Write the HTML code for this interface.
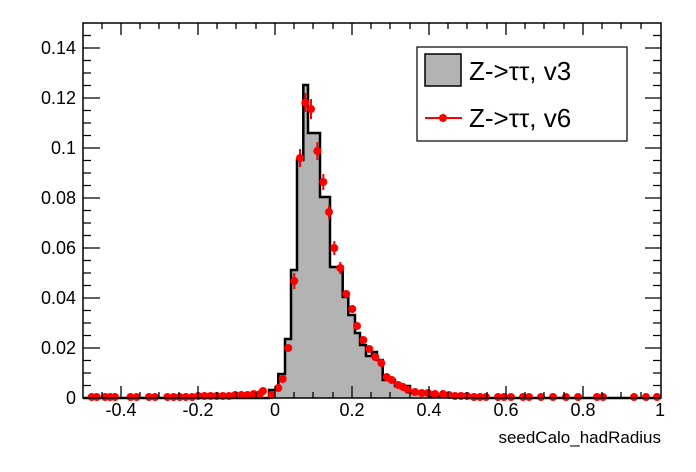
<!DOCTYPE html>
<html><head><meta charset="utf-8"><style>
html,body{margin:0;padding:0;background:#fff;}
svg{display:block;font-family:"Liberation Sans",sans-serif;}
</style></head><body>
<svg width="696" height="472" viewBox="0 0 696 472" xmlns="http://www.w3.org/2000/svg">
<rect width="696" height="472" fill="#fff"/>
<!-- histogram -->
<path d="M83,398 H269 V390 H278.3 V374 H285 V339 H291 V270 H297 V160 H303.3 V85 H308 V133 H320 V197 H330 V267 H342.7 V297 H348.3 V315 H355 V333 H360 V345 H366 V356 H372 V352 H377 V360 H382.7 V380 H395 V386 H410 V393 H430 V396 H470 V398 H661 V398 H83 Z" fill="#b3b3b3" stroke="none"/>
<path d="M83,398 H269 V390 H278.3 V374 H285 V339 H291 V270 H297 V160 H303.3 V85 H308 V133 H320 V197 H330 V267 H342.7 V297 H348.3 V315 H355 V333 H360 V345 H366 V356 H372 V352 H377 V360 H382.7 V380 H395 V386 H410 V393 H430 V396 H470 V398 H661" fill="none" stroke="#000" stroke-width="2.5"/>
<!-- error bars -->
<g stroke="#f00" stroke-width="2">
<line x1="294.3" y1="273" x2="294.3" y2="289"/>
<line x1="300" y1="149" x2="300" y2="167"/>
<line x1="305.3" y1="93" x2="305.3" y2="112"/>
<line x1="311" y1="99" x2="311" y2="119"/>
<line x1="317.3" y1="142" x2="317.3" y2="160"/>
<line x1="323.3" y1="174" x2="323.3" y2="190"/>
<line x1="329" y1="205" x2="329" y2="219"/>
<line x1="334.3" y1="241" x2="334.3" y2="255"/>
<line x1="340.3" y1="262" x2="340.3" y2="274"/>
</g>
<g fill="#f00">
<circle cx="278.3" cy="388" r="4"/><circle cx="282.7" cy="379" r="4"/><circle cx="288.3" cy="348" r="4"/><circle cx="294.3" cy="281" r="4"/><circle cx="300" cy="158" r="4"/><circle cx="305.3" cy="102.7" r="4"/><circle cx="311" cy="109" r="4"/><circle cx="317.3" cy="151" r="4"/><circle cx="323.3" cy="182" r="4"/><circle cx="329" cy="212" r="4"/><circle cx="334.3" cy="248" r="4"/><circle cx="340.3" cy="268" r="4"/><circle cx="346.3" cy="294" r="4"/><circle cx="352.3" cy="309" r="4"/><circle cx="357" cy="326" r="4"/><circle cx="363.3" cy="340" r="4"/><circle cx="369.3" cy="349" r="4"/><circle cx="375.3" cy="357" r="4"/><circle cx="381.3" cy="363" r="4"/><circle cx="386.7" cy="377" r="4"/><circle cx="391.7" cy="380" r="4"/><circle cx="398.3" cy="385" r="4"/><circle cx="403" cy="387" r="4"/><circle cx="408" cy="390" r="4"/><circle cx="415" cy="392" r="4"/><circle cx="421.7" cy="393" r="4"/><circle cx="428" cy="393" r="4"/><circle cx="435" cy="394" r="4"/><circle cx="443" cy="394" r="4"/>
<circle cx="449" cy="395" r="4"/><circle cx="455" cy="396" r="4"/><circle cx="461" cy="396" r="4"/><circle cx="467" cy="396" r="4"/><circle cx="474" cy="397" r="4"/><circle cx="480" cy="397" r="4"/><circle cx="486" cy="397" r="4"/><circle cx="498" cy="397" r="4"/><circle cx="504" cy="397" r="4"/><circle cx="511" cy="397" r="4"/><circle cx="523" cy="397" r="4"/><circle cx="529" cy="397" r="4"/><circle cx="541" cy="397" r="4"/><circle cx="553" cy="397" r="4"/><circle cx="566" cy="397" r="4"/><circle cx="578" cy="397" r="4"/><circle cx="597" cy="397" r="4"/><circle cx="603" cy="397" r="4"/><circle cx="634" cy="397" r="4"/><circle cx="646" cy="397" r="4"/><circle cx="657" cy="397" r="4"/>
<circle cx="263" cy="391" r="4"/><circle cx="271.7" cy="395" r="4"/><circle cx="259.9" cy="394" r="4"/><circle cx="253.7" cy="394" r="4"/><circle cx="247.5" cy="395" r="4"/><circle cx="241.4" cy="395" r="4"/><circle cx="235.2" cy="395" r="4"/><circle cx="229.1" cy="396" r="4"/><circle cx="222.9" cy="396" r="4"/><circle cx="216.7" cy="396" r="4"/><circle cx="210.6" cy="396" r="4"/><circle cx="204.4" cy="396" r="4"/><circle cx="198.2" cy="396" r="4"/><circle cx="192.1" cy="397" r="4"/><circle cx="185.9" cy="397" r="4"/><circle cx="179.8" cy="397" r="4"/><circle cx="173.6" cy="397" r="4"/><circle cx="167.4" cy="397" r="4"/><circle cx="155.1" cy="397" r="4"/><circle cx="149" cy="397" r="4"/><circle cx="136.6" cy="397" r="4"/><circle cx="130.5" cy="397" r="4"/><circle cx="115" cy="397" r="4"/><circle cx="110" cy="397" r="4"/><circle cx="105" cy="397" r="4"/><circle cx="96.7" cy="397" r="4"/><circle cx="91.7" cy="397" r="4"/>
</g>
<!-- frame -->
<rect x="83" y="23" width="578" height="375" fill="none" stroke="#000" stroke-width="1.5"/>
<g stroke="#000" stroke-width="1.3">
<!-- y ticks left/right -->
<path d="M83,398h17M83,348h17M83,298h17M83,248h17M83,198h17M83,148h17M83,98h17M83,48h17
M83,385.5h8M83,373h8M83,360.5h8M83,335.5h8M83,323h8M83,310.5h8M83,285.5h8M83,273h8M83,260.5h8M83,235.5h8M83,223h8M83,210.5h8M83,185.5h8M83,173h8M83,160.5h8M83,135.5h8M83,123h8M83,110.5h8M83,85.5h8M83,73h8M83,60.5h8M83,35.5h8
M661,348h-16M661,298h-16M661,248h-16M661,198h-16M661,148h-16M661,98h-16M661,48h-16
M661,385.5h-8M661,373h-8M661,360.5h-8M661,335.5h-8M661,323h-8M661,310.5h-8M661,285.5h-8M661,273h-8M661,260.5h-8M661,235.5h-8M661,223h-8M661,210.5h-8M661,185.5h-8M661,173h-8M661,160.5h-8M661,135.5h-8M661,123h-8M661,110.5h-8M661,85.5h-8M661,73h-8M661,60.5h-8M661,35.5h-8"/>
<!-- x ticks -->
<path d="M121,398v-12M198,398v-12M275,398v-12M352,398v-12M429,398v-12M506,398v-12M583,398v-12
M102,398v-6M140,398v-6M159,398v-6M179,398v-6M217,398v-6M236,398v-6M256,398v-6M294,398v-6M313,398v-6M333,398v-6M371,398v-6M390,398v-6M410,398v-6M448,398v-6M467,398v-6M487,398v-6M525,398v-6M544,398v-6M564,398v-6M602,398v-6M621,398v-6M641,398v-6
M121,23v12M198,23v12M275,23v12M352,23v12M429,23v12M506,23v12M583,23v12
M102,23v6M140,23v6M159,23v6M179,23v6M217,23v6M236,23v6M256,23v6M294,23v6M313,23v6M333,23v6M371,23v6M390,23v6M410,23v6M448,23v6M467,23v6M487,23v6M525,23v6M544,23v6M564,23v6M602,23v6M621,23v6M641,23v6"/>
</g>
<!-- y labels -->
<g font-size="18" text-anchor="end" fill="#000">
<text x="76" y="404">0</text><text x="76" y="354">0.02</text><text x="76" y="304">0.04</text><text x="76" y="254">0.06</text><text x="76" y="204">0.08</text><text x="76" y="154">0.1</text><text x="76" y="104">0.12</text><text x="76" y="54">0.14</text>
</g>
<g font-size="18" text-anchor="middle" fill="#000">
<text x="121" y="416">-0.4</text><text x="198" y="416">-0.2</text><text x="275" y="416">0</text><text x="352" y="416">0.2</text><text x="429" y="416">0.4</text><text x="506" y="416">0.6</text><text x="583" y="416">0.8</text><text x="660" y="416">1</text>
</g>
<text x="661" y="443" font-size="17" text-anchor="end">seedCalo_hadRadius</text>
<!-- legend -->
<rect x="417" y="47" width="210" height="94" fill="#fff" stroke="#000" stroke-width="1.2"/>
<rect x="425" y="54" width="36" height="32" fill="#b3b3b3" stroke="#000" stroke-width="1.5"/>
<text x="469" y="80" font-size="26">Z-&gt;ττ, v3</text>
<line x1="425" y1="118" x2="462" y2="118" stroke="#f00" stroke-width="2"/>
<circle cx="443" cy="118" r="4" fill="#f00"/>
<text x="469" y="127" font-size="26">Z-&gt;ττ, v6</text>
</svg>
</body></html>
